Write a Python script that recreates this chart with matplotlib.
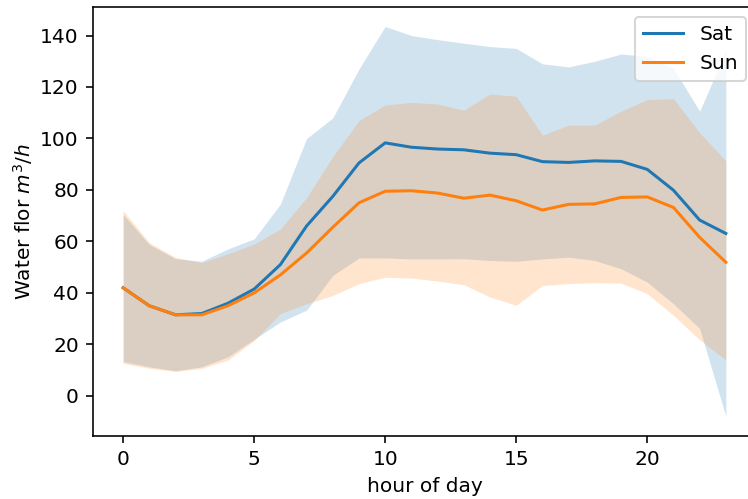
import matplotlib
matplotlib.use("Agg")
import matplotlib.pyplot as plt
import numpy as np

hours = list(range(24))

sat_mean = [42, 35, 31.5, 32, 36, 41.5, 51, 66, 77.5, 90.5, 98.3, 96.6, 95.9, 95.6,
            94.3, 93.7, 91, 90.7, 91.3, 91.1, 88, 79.9, 68.3, 63.1]
sat_upper = [70.5, 58.8, 53.3, 52.3, 57.1, 61, 74.5, 100, 108, 127, 143.5, 140, 138.4,
             137, 135.7, 135, 129, 127.8, 130, 132.8, 131.9, 127.3, 110.6, 134]
sat_lower = [13.3, 11.3, 9.8, 11.3, 15.2, 22, 28.7, 33.3, 46.8, 53.6, 53.6, 53.2, 53.2,
             53.3, 52.6, 52.3, 53.2, 53.9, 52.6, 49.4, 44.2, 35.8, 26.2, -8]

sun_mean = [42, 35, 31.5, 31.5, 35, 40, 47, 55.5, 65.5, 75, 79.5, 79.7, 78.8, 76.8,
            78, 75.8, 72.2, 74.4, 74.6, 77.1, 77.3, 73.2, 61.6, 51.9]
sun_upper = [72, 59.5, 53.8, 51.8, 55.2, 59, 64.8, 77, 93, 107, 113, 114, 113.4, 111,
             117.3, 116.4, 101.3, 105.2, 105.2, 110.6, 115.1, 115.5, 102.2, 91.3]
sun_lower = [12.6, 10.7, 9.5, 10.7, 13.9, 21.5, 32, 35.8, 39, 43.6, 46.1, 45.8, 44.6,
             43.2, 38.4, 35.2, 42.9, 43.6, 44, 43.8, 39.7, 31.3, 21.8, 13.9]

series = [
    ("Sat", sat_mean, sat_lower, sat_upper),
    ("Sun", sun_mean, sun_lower, sun_upper),
]

dpi = 145
fig = plt.figure(figsize=(748 / dpi, 499 / dpi), dpi=dpi)
# the original crop cuts off the right spine, so the axes run past the edge
ax = fig.add_axes([93 / 748, 1 - 436 / 499, (756 - 93) / 748, (436 - 7) / 499])

for label, mean, lower, upper in series:
    line, = ax.plot(hours, mean, label=label)
    ax.fill_between(hours, lower, upper, color=line.get_color(), alpha=0.2, linewidth=0)

ax.set_xlabel("hour of day")
ax.set_ylabel("Water flor $m^3/h$", labelpad=2.5)
ax.legend(loc="upper right")

fig.savefig("out.png", dpi=dpi)
